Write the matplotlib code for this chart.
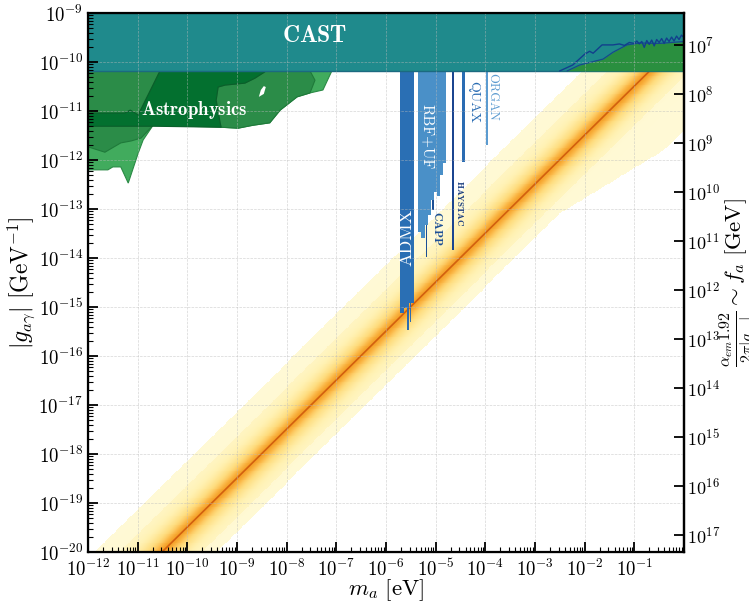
import matplotlib

matplotlib.use("Agg")

import matplotlib.pyplot as plt
import numpy as np
from matplotlib.colors import LinearSegmentedColormap
from matplotlib.ticker import FixedLocator, NullLocator, LogLocator, NullFormatter

plt.rcParams["mathtext.fontset"] = "cm"
plt.rcParams["font.family"] = "serif"
plt.rcParams["font.serif"] = ["cmr10", "DejaVu Serif"]
plt.rcParams["axes.formatter.use_mathtext"] = True
plt.rcParams["axes.unicode_minus"] = False

# axis ranges
M_MIN, M_MAX = 1e-12, 1.0
G_MIN, G_MAX = 1e-20, 1e-9
FA_FACTOR = (1 / 137.036) * 1.92 / (2 * np.pi)  # f_a = FA_FACTOR / g

# CAST: everything above this coupling
cast_g = 6.6e-11

# astrophysics bounds (log10 m, log10 g)
astro_light_lm = [-12, -7.09, -7.27, -7.53, -7.79, -8.13, -8.34, -8.68, -8.98, -9.32, -10.69, -10.89, -10.99, -11.19, -11.34, -11.50, -11.60, -12]
astro_light_lg = [-10.18, -10.18, -10.57, -10.63, -10.71, -10.98, -11.24, -11.29, -11.35, -11.33, -11.29, -11.59, -11.86, -12.47, -12.14, -12.14, -12.20, -12.20]
astro_mid_lm = [-12, -10.55, -10.99, -10.69, -10.93, -11.13, -11.34, -11.66, -12]
astro_mid_lg = [-10.18, -10.18, -11.08, -11.29, -11.55, -11.61, -11.65, -11.84, -11.73]
astro_bump_lm = [-9.38, -9.24, -8.84, -8.64, -8.44, -8.44, -7.53, -7.43, -7.53, -7.79, -8.13, -8.34, -8.68, -8.98, -9.32, -9.34, -9.42]
astro_bump_lg = [-10.51, -10.47, -10.43, -10.33, -10.20, -10.18, -10.18, -10.37, -10.63, -10.71, -10.98, -11.24, -11.29, -11.35, -11.33, -11.24, -10.78]
astro_dark_lm = [-10.55, -8.44, -8.44, -8.64, -8.84, -9.24, -9.38, -9.42, -9.34, -9.32, -10.69, -12, -12, -11.26, -11.15, -11.05, -10.99]
astro_dark_lg = [-10.18, -10.18, -10.20, -10.33, -10.43, -10.47, -10.51, -10.78, -11.24, -11.33, -11.31, -11.31, -11.04, -11.04, -10.98, -11.04, -11.08]
astro_hole_lm = [-8.56, -8.52, -8.46, -8.42, -8.46]
astro_hole_lg = [-10.71, -10.57, -10.49, -10.51, -10.65]

# high-mass telescope bound (green) and noisy limit (navy)
tele_lm = [-2.35, -2.10, -1.63, -1.43, -1.15, -0.89, -0.5, 0.0]
tele_lg = [-10.18, -10.06, -9.94, -9.80, -9.65, -9.61, -9.62, -9.58]
noisy_lm = [-2.50, -2.24, -2.00, -1.90, -1.83, -1.65, -1.43, -1.30, -1.20, -1.10, -1.00, -0.95, -0.90, -0.85, -0.80,
            -0.75, -0.70, -0.65, -0.60, -0.55, -0.50, -0.45, -0.40, -0.35, -0.30, -0.25, -0.20, -0.15, -0.10, -0.05, 0.0]
noisy_lg = [-10.18, -10.06, -9.84, -9.78, -9.82, -9.65, -9.65, -9.63, -9.66, -9.60, -9.62, -9.57, -9.63, -9.58, -9.70,
            -9.56, -9.64, -9.55, -9.67, -9.54, -9.60, -9.52, -9.62, -9.51, -9.58, -9.49, -9.57, -9.47, -9.54, -9.45, -9.50]

# haloscopes: step edges in log10 m, bottom log10 g per step
admx_edges = [-5.72, -5.64, -5.54, -5.44]
admx_bottom = [-15.12, -15.02, -14.92]
admx_strand_edges = [[-5.58, -5.545], [-5.52, -5.49]]
admx_strand_bottom = [-15.47, -15.31]
rbf_edges = [-5.36, -5.30, -5.22, -5.16, -5.09, -5.03, -4.97, -4.91, -4.85, -4.79]
rbf_bottom = [-13.47, -13.59, -13.33, -13.12, -12.82, -12.65, -12.73, -12.31, -12.06]
capp_edges = [[-5.20, -5.165], [-5.07, -5.035]]
capp_bottom = [-13.98, -13.02]
haystac_edges = [-4.67, -4.635]
haystac_bottom = -13.84
quax_edges = [-4.46, -4.40]
quax_bottom = -12.04
organ_edges = [-3.99, -3.955]
organ_bottom = -11.69

# QCD axion band: line g = C * m, band limits as log10 offsets from the line
qcd_logc = -9.49
qcd_band_hi = 1.35
qcd_lo_lm = [-12, -2.5, -0.4, 0]
qcd_lo_d = [-1.1, -1.1, -1.9, -1.9]


def p10(values):
    return np.power(10.0, np.asarray(values, dtype=float))


fig = plt.figure(figsize=(7.49, 6.02), dpi=100)
ax = fig.add_axes([0.1175, 0.083, 0.7957, 0.8953])
ax.set_xscale("log")
ax.set_yscale("log")
ax.set_xlim(M_MIN, M_MAX)
ax.set_ylim(G_MIN, G_MAX)

# QCD band
lm_grid = np.linspace(-12, 0, 600)
lg_grid = np.linspace(-20, -9, 600)
LM, LG = np.meshgrid(lm_grid, lg_grid)
d = LG - (LM + qcd_logc)
lo = np.interp(LM, qcd_lo_lm, qcd_lo_d)
t = 0.05 + 0.1 * ((d > -0.8) & (d < 0.85)) + 0.55 * np.exp(-(d / 0.45) ** 2) + 0.3 * np.exp(-(d / 0.15) ** 2)
t = np.where((d >= lo) & (d <= qcd_band_hi), np.clip(t, 0, 1), np.nan)
band_cmap = LinearSegmentedColormap.from_list(
    "qcd", ["#fffbdd", "#fff1b2", "#fedd80", "#fbbb4c", "#f4a028"])
ax.pcolormesh(p10(lm_grid), p10(lg_grid), np.ma.masked_invalid(t), cmap=band_cmap,
              vmin=0, vmax=1, shading="auto", rasterized=True, zorder=0.5)
ax.plot([M_MIN, M_MAX], [p10(qcd_logc) * M_MIN, p10(qcd_logc) * M_MAX], color="#d2600f", lw=1.2, zorder=0.6)

# astrophysics
ax.fill(p10(astro_light_lm), p10(astro_light_lg), color="#41ab5d", ec="#2a8a45", lw=0.8, zorder=1)
ax.fill(p10(astro_mid_lm), p10(astro_mid_lg), color="#2b8c48", ec="#1f7a3a", lw=0.8, zorder=1.1)
ax.fill(p10(astro_bump_lm), p10(astro_bump_lg), color="#2b8c48", ec="#1f7a3a", lw=0.8, zorder=1.1)
ax.fill(p10(astro_dark_lm), p10(astro_dark_lg), color="#03702f", ec="#0a5e2a", lw=0.8, zorder=1.2)
ax.fill(p10(astro_hole_lm), p10(astro_hole_lg), color="white", lw=0, zorder=1.3)
ax.text(p10(-9.85), p10(-10.98), r"$\mathbf{Astrophysics}$", color="white", fontsize=13.5,
        ha="center", va="center", zorder=5)

# haloscopes
for i, bot in enumerate(admx_bottom):
    ax.fill_between(p10(admx_edges[i:i + 2]), p10(bot), cast_g, color="#2a6fb4", lw=0, zorder=1.6)
for edges, bot in zip(admx_strand_edges, admx_strand_bottom):
    ax.fill_between(p10(edges), p10(bot), cast_g, color="#2e6cae", lw=0, zorder=1.5)
for edges, bot in zip(capp_edges, capp_bottom):
    ax.fill_between(p10(edges), p10(bot), cast_g, color="#1c4f96", lw=0, zorder=1.5)
for i, bot in enumerate(rbf_bottom):
    ax.fill_between(p10(rbf_edges[i:i + 2]), p10(bot), cast_g, color="#4a90c8", lw=0, zorder=1.6)
ax.fill_between(p10(haystac_edges), p10(haystac_bottom), cast_g, color="#1b4590", lw=0, zorder=1.6)
ax.fill_between(p10(quax_edges), p10(quax_bottom), cast_g, color="#2a6cb3", lw=0, zorder=1.6)
ax.fill_between(p10(organ_edges), p10(organ_bottom), cast_g, color="#5b9bd0", lw=0, zorder=1.6)

ax.text(p10(-5.58), p10(-13.57), "ADMX", color="white", fontsize=13, rotation=90,
        ha="center", va="center", zorder=5)
ax.text(p10(-5.18), p10(-11.53), "RBF+UF", color="white", fontsize=11, rotation=-90,
        ha="center", va="center", zorder=5)
ax.text(p10(-4.96), p10(-13.39), r"$\mathbf{CAPP}$", color="#1c4f96", fontsize=8.5, rotation=-90,
        ha="center", va="center", zorder=5)
ax.text(p10(-4.51), p10(-12.88), r"$\mathbf{HAYSTAC}$", color="#1b3f80", fontsize=6.5, rotation=-90,
        ha="center", va="center", zorder=5)
ax.text(p10(-4.25), p10(-10.82), "QUAX", color="#2a6cb3", fontsize=10, rotation=-90,
        ha="center", va="center", zorder=5)
ax.text(p10(-3.85), p10(-10.71), "ORGAN", color="#5b9bd0", fontsize=9, rotation=-90,
        ha="center", va="center", zorder=5)

# CAST and telescopes
ax.fill_between([M_MIN, M_MAX], cast_g, G_MAX, color="#1f8a8c", lw=0, zorder=2)
ax.axhline(cast_g, color="#1b6a80", lw=1.0, zorder=2.1)
ax.fill_between(p10(tele_lm), cast_g, p10(tele_lg), color="#2a8f3f", lw=0, zorder=2.2)
ax.plot(p10(tele_lm), p10(tele_lg), color="#174a8a", lw=0.9, zorder=2.3)
ax.plot(p10(noisy_lm), p10(noisy_lg), color="#123f8c", lw=1.0, zorder=2.3)
ax.text(p10(-7.43), p10(-9.47), r"$\mathbf{CAST}$", color="white", fontsize=17,
        ha="center", va="center", zorder=5)

# axes styling
ax.set_axisbelow(False)
ax.grid(True, which="major", ls="--", lw=0.5, color="#bbbbbb", alpha=0.6)
ax.xaxis.set_major_locator(FixedLocator(p10(np.arange(-12, 0))))
ax.xaxis.set_minor_locator(LogLocator(base=10, subs=np.arange(2, 10), numticks=30))
ax.xaxis.set_minor_formatter(NullFormatter())
ax.yaxis.set_major_locator(FixedLocator(p10(np.arange(-20, -8))))
ax.yaxis.set_minor_locator(LogLocator(base=10, subs=np.arange(2, 10), numticks=30))
ax.yaxis.set_minor_formatter(NullFormatter())
ax.tick_params(which="major", direction="in", length=7, width=1.3, labelsize=13.5, right=False, top=False)
ax.tick_params(axis="x", which="major", pad=5)
ax.tick_params(which="minor", direction="in", length=3.5, width=0.8, right=False, top=False)
for spine in ax.spines.values():
    spine.set_linewidth(1.6)
ax.set_xlabel(r"$m_a\ [\mathrm{eV}]$", fontsize=16.5)
ax.xaxis.set_label_coords(0.5, -0.046)
ax.set_ylabel(r"$|g_{a\gamma}|\ [\mathrm{GeV}^{-1}]$", fontsize=17, labelpad=1)

ax2 = ax.twinx()
ax2.set_yscale("log")
ax2.set_ylim(FA_FACTOR / G_MIN, FA_FACTOR / G_MAX)
ax2.yaxis.set_major_locator(FixedLocator(p10(np.arange(7, 18))))
ax2.yaxis.set_minor_locator(NullLocator())
ax2.tick_params(which="major", direction="in", length=7, width=1.3, labelsize=13, pad=2.5)
ax2.spines["right"].set_linewidth(1.6)
ax2.set_ylabel(r"$\frac{\alpha_{em}1.92}{2\pi|g_{a\gamma}|}\sim f_a\ [\mathrm{GeV}]$", fontsize=16.5, labelpad=-2)

fig.savefig("out.png", dpi=100)
